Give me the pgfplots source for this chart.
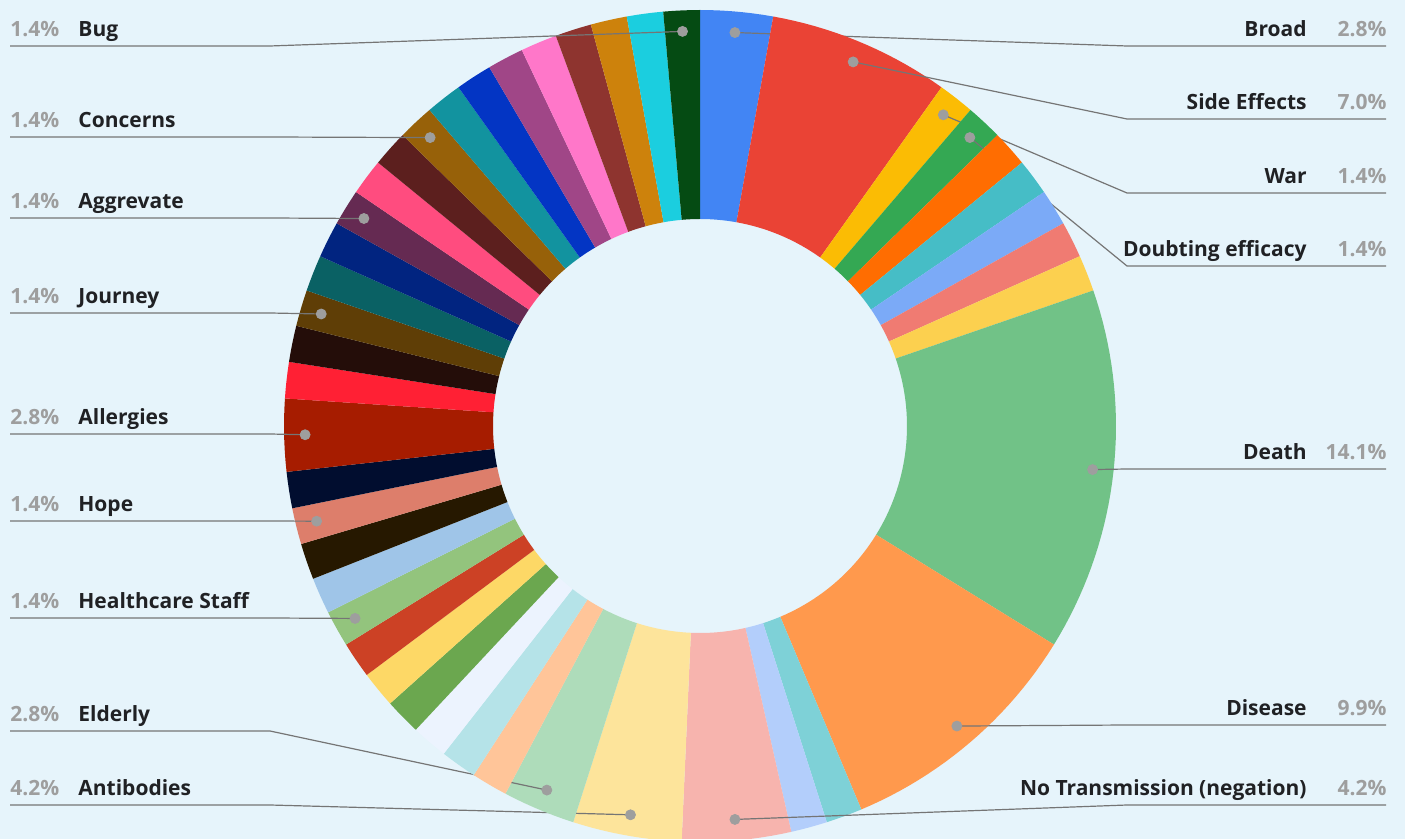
\documentclass[border=0pt]{standalone}
\usepackage{pgfplots}
\pgfplotsset{compat=1.18}
\usepackage{pgfplotstable}
\usepackage{fontspec}
\setmainfont{Open Sans}
\definecolor{bg}{HTML}{E6F4FB}
\definecolor{nametxt}{HTML}{202124}
\definecolor{pcttxt}{HTML}{9E9E9E}
\definecolor{leadc}{HTML}{757575}
\definecolor{dotc}{HTML}{9E9E9E}

% name, count, fill colour, y of the label line (image px, 0 = no label)
\pgfplotstableread[col sep=comma]{
name,count,hex,ly
Broad,2,4285F4,46
Side Effects,5,EA4335,119
War,1,FBBC04,193
Doubting efficacy,1,34A853,266
-,1,FF6D01,0
-,1,46BDC6,0
-,1,7BAAF7,0
-,1,F07B72,0
-,1,FCD04F,0
Death,10,71C287,469
Disease,7,FF994D,725
-,1,7ED1D7,0
-,1,B3CEFB,0
No Transmission (negation),3,F7B4AE,805
Antibodies,3,FDE49B,805
Elderly,2,AEDCBA,731
-,1,FFC599,0
-,1,B5E3E8,0
-,1,ECF3FE,0
-,1,6BA74F,0
-,1,FDD866,0
-,1,CC4125,0
Healthcare Staff,1,93C47D,618
-,1,9FC5E8,0
-,1,261800,0
Hope,1,DD7E6B,521
-,1,010D2F,0
Allergies,2,A61C00,434
-,1,FF2034,0
-,1,240D09,0
Journey,1,5F3E06,313
-,1,0A6164,0
-,1,012480,0
Aggrevate,1,652A52,218
-,1,FF4C7F,0
-,1,5C1F1E,0
Concerns,1,976109,137
-,1,12939F,0
-,1,0335C4,0
-,1,A04687,0
-,1,FF77C9,0
-,1,8E342F,0
-,1,CD820C,0
-,1,1BCEDF,0
Bug,1,054B13,46
}\slices

\def\cx{700}
\def\cy{426}
\def\Ro{416}
\def\Ri{207}
\def\Rd{395}

\pgfplotsset{
  ldr/.style={color=leadc,line width=0.6pt,forget plot},
  dotst/.style={only marks,mark=*,mark size=2.5pt,mark options={fill=dotc,draw=dotc},forget plot},
}
\tikzset{
  nmst/.style={text=nametxt,font=\bfseries\fontsize{10.5pt}{12pt}\selectfont,inner sep=0pt},
  pcst/.style={text=pcttxt,font=\bfseries\fontsize{10.5pt}{12pt}\selectfont,inner sep=0pt},
}

\pgfplotstablegetrowsof{\slices}
\pgfmathtruncatemacro\nrows{\pgfplotsretval-1}
\gdef\total{0}
\foreach \i in {0,...,\nrows}{%
  \pgfplotstablegetelem{\i}{count}\of\slices
  \pgfmathtruncatemacro\tt{\total+\pgfplotsretval}%
  \xdef\total{\tt}}

\gdef\cum{0}
\gdef\allplots{}
\foreach \i in {0,...,\nrows}{%
  \pgfplotstablegetelem{\i}{count}\of\slices \edef\cnt{\pgfplotsretval}%
  \pgfplotstablegetelem{\i}{hex}\of\slices \edef\hex{\pgfplotsretval}%
  \pgfplotstablegetelem{\i}{ly}\of\slices \edef\ly{\pgfplotsretval}%
  \pgfplotstablegetelem{\i}{name}\of\slices \edef\nm{\pgfplotsretval}%
  \edef\tmp{\noexpand\xglobal\noexpand\definecolor{slice\i}{HTML}{\hex}}\tmp
  \pgfmathsetmacro\aS{\cum/\total*360}%
  \pgfmathsetmacro\aE{(\cum+\cnt)/\total*360}%
  \pgfmathtruncatemacro\nseg{max(2,ceil((\aE-\aS)/1.5))}%
  \gdef\coords{}%
  \foreach \k in {0,...,\nseg}{%
    \pgfmathsetmacro\a{\aS+\k*(\aE-\aS)/\nseg}%
    \pgfmathsetmacro\px{\cx+\Ro*sin(\a)}%
    \pgfmathsetmacro\py{\cy-\Ro*cos(\a)}%
    \xdef\coords{\coords(\px,\py)}}%
  \foreach \k in {\nseg,...,0}{%
    \pgfmathsetmacro\a{\aS+\k*(\aE-\aS)/\nseg}%
    \pgfmathsetmacro\px{\cx+\Ri*sin(\a)}%
    \pgfmathsetmacro\py{\cy-\Ri*cos(\a)}%
    \xdef\coords{\coords(\px,\py)}}%
  \xdef\allplots{\unexpanded\expandafter{\allplots}\noexpand\addplot[fill=slice\i,draw=none,forget plot] coordinates {\coords};}%
  \ifnum\ly>0
    \pgfmathsetmacro\am{(\cum+\cnt/2)/\total*360}%
    \pgfmathsetmacro\dx{\cx+\Rd*sin(\am)}%
    \pgfmathsetmacro\dy{\cy-\Rd*cos(\am)}%
    \pgfmathsetmacro\pct{\cnt/\total*100}%
    \pgfmathsetmacro\base{\ly-9}%
    \ifdim\am pt<180pt
      \xdef\allplots{\unexpanded\expandafter{\allplots}%
        \noexpand\addplot[ldr] coordinates {(1386,\ly)(1127,\ly)(\dx,\dy)};%
        \noexpand\addplot[dotst] coordinates {(\dx,\dy)};%
        \noexpand\node[nmst,anchor=base east] at (axis cs:1307,\base) {\nm};%
        \noexpand\node[pcst,anchor=base east] at (axis cs:1387,\base) {\noexpand\pgfmathprintnumber[fixed,fixed zerofill,precision=1,assume math mode=true]{\pct}\noexpand\%};}%
    \else
      \xdef\allplots{\unexpanded\expandafter{\allplots}%
        \noexpand\addplot[ldr] coordinates {(10,\ly)(270,\ly)(\dx,\dy)};%
        \noexpand\addplot[dotst] coordinates {(\dx,\dy)};%
        \noexpand\node[nmst,anchor=base west] at (axis cs:78,\base) {\nm};%
        \noexpand\node[pcst,anchor=base west] at (axis cs:10,\base) {\noexpand\pgfmathprintnumber[fixed,fixed zerofill,precision=1,assume math mode=true]{\pct}\noexpand\%};}%
    \fi
  \fi
  \pgfmathsetmacro\newcum{\cum+\cnt}%
  \xdef\cum{\newcum}%
}

\begin{document}
\begin{tikzpicture}
\path[use as bounding box,fill=bg] (0,0) rectangle (702.5pt,419.5pt);
\begin{axis}[at={(0,0)},anchor=south west,scale only axis,
  width=702.5pt,height=419.5pt,
  xmin=0,xmax=1405,ymin=0,ymax=839,y dir=reverse,hide axis]
\allplots
\end{axis}
\end{tikzpicture}
\end{document}
